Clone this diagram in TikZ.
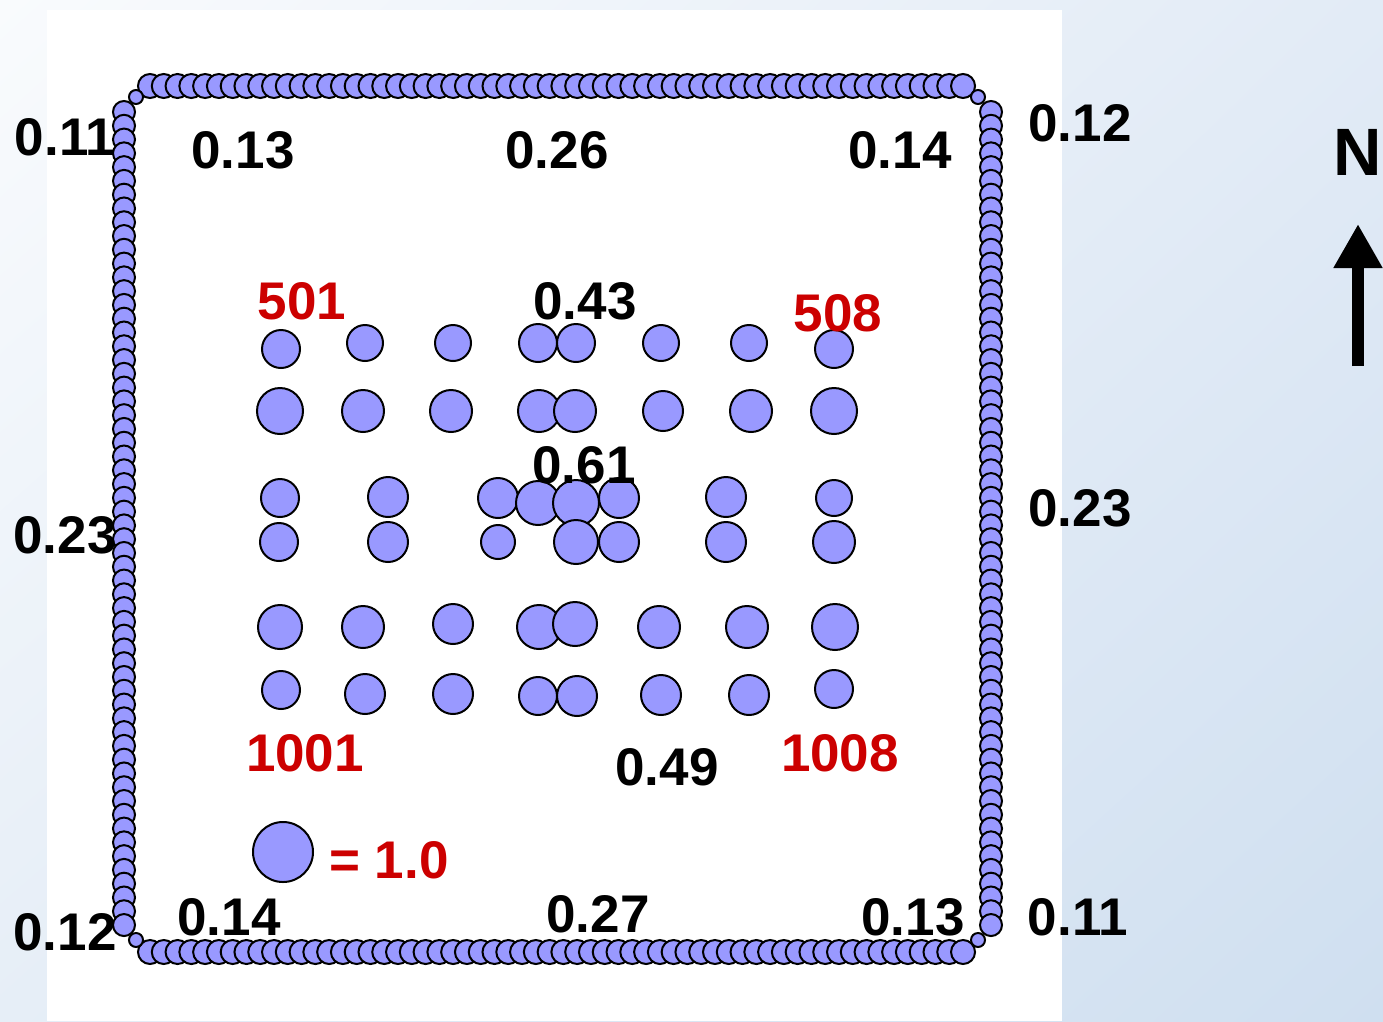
\documentclass[tikz,border=0pt]{standalone}
\usepackage{fontspec}
\setmainfont{Liberation Sans}
\usetikzlibrary{arrows.meta, shadings}
\definecolor{punktblau}{RGB}{153,153,255}
\definecolor{rot}{RGB}{204,0,0}
\definecolor{bgA}{RGB}{249,251,253}
\definecolor{bgB}{RGB}{226,235,246}
\definecolor{bgC}{RGB}{230,238,247}
\definecolor{bgD}{RGB}{207,223,240}
\tikzstyle{messpunkt} = [draw=black, line width=2pt, fill=punktblau]
\tikzstyle{wert} = [font=\fontsize{53}{58}\selectfont\bfseries, inner sep=0pt]
\tikzstyle{nummer} = [wert, text=rot]

\begin{document}
\begin{tikzpicture}[x=1pt, y=-1pt, >=latex]
	\useasboundingbox (0,0) rectangle (1383,1021);
	%Hintergrund
	\shade[upper left=bgA, upper right=bgB, lower left=bgC, lower right=bgD] (0,0) rectangle (1383,1021);
	\fill[white] (47,10) rectangle (1062,1021);
	%Rand
	\foreach \i in {0,...,59} {
		\filldraw[messpunkt] ({150+\i*13.78},86) circle (12pt);
		\filldraw[messpunkt] ({150+\i*13.78},952) circle (12pt);
		\filldraw[messpunkt] (124,{112+\i*13.78}) circle (11pt);
		\filldraw[messpunkt] (991,{112+\i*13.78}) circle (11pt);
	}
	\foreach \x/\y in {136/97, 978/97, 136/940, 978/940}
		\filldraw[messpunkt] (\x,\y) circle (7pt);
	%Messpunkte
	\foreach \x/\y/\r in {281/349/19, 365/343/18, 453/343/18, 538/343/19, 576/343/19, 661/343/18, 749/343/18, 834/349/19,
			280/411/23, 363/411/21, 451/411/21, 539/411/21, 575/411/21, 663/411/20, 751/411/21, 834/411/23,
			280/498/19, 388/497/20, 498/498/20, 538/503/22, 576/503/23, 619/498/20, 726/497/20, 834/498/18,
			279/542/19, 388/542/20, 498/542/17, 576/542/22, 619/542/20, 726/542/20, 834/542/21,
			280/627/22, 363/627/21, 453/624/20, 539/627/22, 575/624/22, 659/627/21, 747/627/21, 835/627/23,
			281/690/19, 365/694/20, 453/694/20, 538/696/19, 577/696/20, 661/695/20, 749/695/20, 834/689/19}
		\filldraw[messpunkt] (\x,\y) circle (\r pt);
	%Legende
	\filldraw[messpunkt] (283,852) circle (30pt);
	\node[nummer] (leg) at (389,860) {= 1.0};
	%Werte
	\node[wert] (lo) at (65,137) {0.11};
	\node[wert] (ol) at (243,150) {0.13};
	\node[wert] (om) at (557,150) {0.26};
	\node[wert] (or) at (900,150) {0.14};
	\node[wert] (ro) at (1080,123) {0.12};
	\node[wert] (lm) at (65,535) {0.23};
	\node[wert] (rm) at (1080,508) {0.23};
	\node[wert] (lu) at (65,932) {0.12};
	\node[wert] (ul) at (229,917) {0.14};
	\node[wert] (um) at (598,914) {0.27};
	\node[wert] (ur) at (913,917) {0.13};
	\node[wert] (ru) at (1078,917) {0.11};
	\node[wert] (m1) at (585,301) {0.43};
	\node[wert] (m2) at (584,465) {0.61};
	\node[wert] (m3) at (667,767) {0.49};
	\node[nummer] (n501) at (302,301) {501};
	\node[nummer] (n508) at (838,313) {508};
	\node[nummer] (n1001) at (305,753) {1001};
	\node[nummer] (n1008) at (840,753) {1008};
	%Nordpfeil
	\node[font=\fontsize{67}{72}\selectfont\bfseries, inner sep=0pt] (nord) at (1358,152) {N};
	\coordinate (pfa) at (1358,366);
	\coordinate (pfb) at (1358,224);
	\draw[line width=12pt, -{Triangle[width=46pt, length=44pt]}] (pfa) -- (pfb);
\end{tikzpicture}
\end{document}
